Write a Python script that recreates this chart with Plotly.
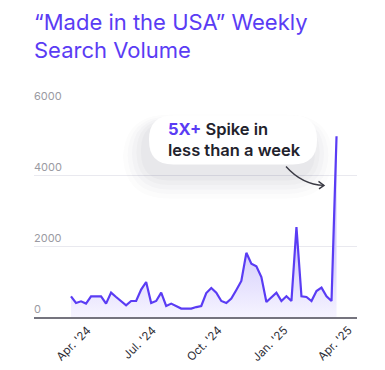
import pandas as pd
import plotly.graph_objects as go

# ---------------- data ----------------
start_date = "2024-03-09"
search_volume = [
    583, 394, 442, 377, 583, 583, 583, 377, 687, 563,
    450, 330, 451, 451, 772, 986, 394, 451, 687, 310,
    377, 300, 237, 237, 237, 280, 310, 676, 817, 687,
    451, 394, 518, 760, 1014, 1808, 1504, 1428, 1127, 423,
    563, 687, 451, 583, 451, 2535, 583, 563, 451, 732,
    828, 583, 451, 5090,
]
weeks = pd.date_range(start_date, periods=len(search_volume), freq="7D")

tick_dates = ["2024-04-01", "2024-07-01", "2024-10-01", "2025-01-01", "2025-04-01"]
tick_labels = ["Apr. '24", "Jul. '24", "Oct. '24", "Jan. '25", "Apr. '25"]
y_ticks = [0, 2000, 4000, 6000]

title_lines = ["“Made in the USA” Weekly", "Search Volume"]
callout_hi = "5X+"
callout_rest = ["Spike in", "less than a week"]

# ---------------- layout geometry ----------------
W, H = 385, 370
L, R, T, B = 34, 28, 103.5, 53.3
PW, PH = W - L - R, H - T - B


def px(x):
    return (x - L) / PW


def py(y):
    return 1 - (y - T) / PH


PURPLE = "#5a3cf4"
FONT = "Inter, sans-serif"
day_px = 5.01 / 7.0
d0 = weeks[0]
x_left = d0 - pd.Timedelta(days=(71 - L) / day_px)
x_right = d0 + pd.Timedelta(days=(W - R - 71) / day_px)

fig = go.Figure()
fig.add_trace(go.Scatter(
    x=weeks, y=search_volume, mode="lines",
    line=dict(color=PURPLE, width=2.2),
    fill="tozeroy",
    fillgradient=dict(type="vertical", start=0, stop=5200,
                      colorscale=[[0, "rgba(246,244,255,1)"],
                                  [0.35, "rgba(214,207,252,1)"],
                                  [1, "rgba(194,184,250,1)"]]),
    hoverinfo="skip",
))


def rrect(x0, y0, x1, y1, r):
    X0, X1 = px(x0), px(x1)
    Y0, Y1 = py(y0), py(y1)
    rx, ry = r / PW, r / PH
    return (f"M {X0+rx},{Y0} L {X1-rx},{Y0} Q {X1},{Y0} {X1},{Y0-ry} "
            f"L {X1},{Y1+ry} Q {X1},{Y1} {X1-rx},{Y1} L {X0+rx},{Y1} "
            f"Q {X0},{Y1} {X0},{Y1+ry} L {X0},{Y0-ry} Q {X0},{Y0} {X0+rx},{Y0} Z")


shapes = []
# soft shadow layers
for i, a in enumerate([0.015, 0.018, 0.022, 0.026, 0.03]):
    g = 22 - i * 4.5
    shapes.append(dict(type="path", xref="paper", yref="paper",
                       path=rrect(149 - g - 4, 115 - g * 0.4 + 8, 317 + g - 6, 164 + g + 12, 24 + g),
                       fillcolor=f"rgba(60,60,80,{a})", line=dict(width=0), layer="above"))
shapes.append(dict(type="path", xref="paper", yref="paper",
                   path=rrect(149, 115, 317, 164, 24),
                   fillcolor="white", line=dict(width=0), layer="above"))
# curved arrow
shapes.append(dict(type="path", xref="paper", yref="paper",
                   path=f"M {px(286)},{py(166)} Q {px(302)},{py(184)} {px(324)},{py(185)}",
                   line=dict(color="#3a3a44", width=1.4), layer="above"))
shapes.append(dict(type="path", xref="paper", yref="paper",
                   path=f"M {px(318.5)},{py(181)} L {px(324)},{py(185)} L {px(319)},{py(188.5)}",
                   line=dict(color="#3a3a44", width=1.4), layer="above"))

annotations = [
    dict(xref="paper", yref="paper", x=px(166), y=py(139.5), xanchor="left", yanchor="middle",
         text=(f"<span style='color:{PURPLE}'><b>{callout_hi}</b></span> {callout_rest[0]}"
               f"<br>{callout_rest[1]}"),
         showarrow=False, align="left",
         font=dict(family=FONT, size=16.5, color="#22222c", weight=600)),
    dict(xref="paper", yref="paper", x=px(32), y=py(21), xanchor="left", yanchor="middle",
         text=title_lines[0], showarrow=False,
         font=dict(family=FONT, size=22, color=PURPLE)),
    dict(xref="paper", yref="paper", x=px(32), y=py(49), xanchor="left", yanchor="middle",
         text=title_lines[1], showarrow=False,
         font=dict(family=FONT, size=22, color=PURPLE)),
]

fig.update_layout(
    width=W, height=H,
    margin=dict(l=L, r=R, t=T, b=B, autoexpand=False),
    paper_bgcolor="white", plot_bgcolor="white",
    showlegend=False,
    shapes=shapes, annotations=annotations,
    xaxis=dict(type="date", range=[x_left, x_right], automargin=False,
               tickvals=tick_dates, ticktext=tick_labels, tickangle=-45,
               showgrid=False, zeroline=False,
               showline=True, linecolor="#75747e", linewidth=2,
               ticks="", tickfont=dict(family=FONT, size=11.5, color="#2e2e36")),
    yaxis=dict(range=[0, 6000], tickvals=y_ticks, automargin=False,
               ticktext=[str(v) for v in y_ticks],
               ticklabelposition="inside top", ticklabeloverflow="allow",
               ticklabelstandoff=-3,
               showgrid=True, gridcolor="#e9e9ef", gridwidth=1,
               zeroline=False, showline=False, ticks="",
               tickfont=dict(family=FONT, size=11, color="#9a9aa2")),
)

fig.write_html("out.html", config={"displayModeBar": False},
               post_script="document.body.style.margin='0px';document.body.style.overflow='hidden';")
